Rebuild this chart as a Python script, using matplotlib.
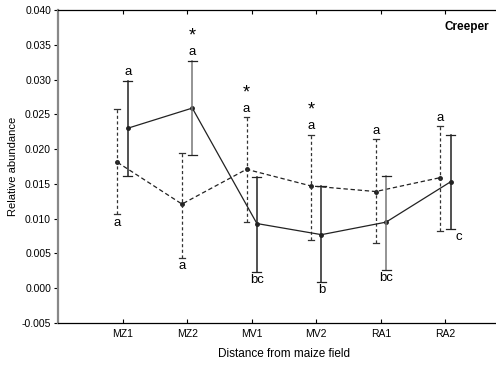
"""Relative abundance of creepers at increasing distance from the maize field."""

import numpy as np
import matplotlib.pyplot as plt

plt.rcParams['font.family'] = ['Liberation Sans', 'DejaVu Sans']

sites = ['MZ1', 'MZ2', 'MV1', 'MV2', 'RA1', 'RA2']

# solid series (mean, upper and lower whisker ends)
solid_mean = [0.0230, 0.0259, 0.0093, 0.0077, 0.0095, 0.0153]
solid_upper = [0.0298, 0.0327, 0.0160, 0.0147, 0.0161, 0.0221]
solid_lower = [0.0161, 0.0191, 0.0024, 0.0009, 0.0026, 0.0085]

# dashed series
dashed_mean = [0.0181, 0.0121, 0.0171, 0.0147, 0.0139, 0.0159]
dashed_upper = [0.0257, 0.0195, 0.0246, 0.0221, 0.0214, 0.0233]
dashed_lower = [0.0106, 0.0043, 0.0095, 0.0070, 0.0065, 0.0082]

# significance letters and stars
solid_top_labels = ['a', 'a', '', '', '', '']
solid_top_star = [False, True, False, False, False, False]
dashed_top_labels = ['', '', 'a', 'a', 'a', 'a']
dashed_top_star = [False, False, True, True, False, False]
dashed_bottom_labels = ['a', 'a', '', '', '', '']
solid_bottom_labels = ['', '', 'bc', 'b', 'bc', 'c']

x = np.arange(1, len(sites) + 1)
off = 0.08
xs = x + off
xd = x - off

fig = plt.figure(figsize=(4.96, 3.67), dpi=100)
ax = fig.add_axes([58 / 496, 44 / 367, 452 / 496, 313 / 367])

# dashed series
ax.plot(xd, dashed_mean, color='#222222', lw=0.9, dashes=(3.5, 2.2),
        marker='o', ms=2.5, mfc='#222222', mec='#222222')
for xi, lo, hi in zip(xd, dashed_lower, dashed_upper):
    ax.plot([xi, xi], [lo, hi], color='#333333', lw=0.9, dashes=(2.5, 2))
    ax.plot([xi - 0.045, xi + 0.045], [lo, lo], color='#333333', lw=0.9)
    ax.plot([xi - 0.045, xi + 0.045], [hi, hi], color='#333333', lw=0.9)

# solid series
ax.plot(xs, solid_mean, color='#222222', lw=0.9, marker='o', ms=2.5,
        mfc='#222222', mec='#222222')
for i, (xi, lo, hi) in enumerate(zip(xs, solid_lower, solid_upper)):
    c = '#777777' if i in (1, 4) else '#222222'
    ax.plot([xi, xi], [lo, hi], color=c, lw=1.1)
    ax.plot([xi - 0.07, xi + 0.07], [lo, lo], color='#222222', lw=0.9)
    ax.plot([xi - 0.07, xi + 0.07], [hi, hi], color='#222222', lw=0.9)

# annotation letters
fs = 9.5
for i in range(len(sites)):
    if solid_top_labels[i]:
        ax.text(xs[i], solid_upper[i] + 0.0004, solid_top_labels[i], ha='center', va='bottom', fontsize=fs)
    if solid_top_star[i]:
        ax.text(xs[i], solid_upper[i] + 0.0024, '*', ha='center', va='bottom', fontsize=13)
    if dashed_top_labels[i]:
        ax.text(xd[i], dashed_upper[i] + 0.0003, dashed_top_labels[i], ha='center', va='bottom', fontsize=fs)
    if dashed_top_star[i]:
        ax.text(xd[i], dashed_upper[i] + 0.0023, '*', ha='center', va='bottom', fontsize=13)
    if dashed_bottom_labels[i]:
        ax.text(xd[i], dashed_lower[i] - 0.0003, dashed_bottom_labels[i], ha='center', va='top', fontsize=fs)
    if solid_bottom_labels[i]:
        if sites[i] == 'RA2':
            ax.text(xs[i] + 0.07, solid_lower[i] - 0.0003, solid_bottom_labels[i], ha='left', va='top', fontsize=fs)
        else:
            ax.text(xs[i], solid_lower[i] - 0.0003, solid_bottom_labels[i], ha='center', va='top', fontsize=fs)

ax.text(5.98, 0.0375, 'Creeper', ha='left', va='center', fontsize=8.5, fontweight='bold')

yticks = np.arange(-0.005, 0.0401, 0.005)
ax.set_xlim(0, 7)
ax.set_ylim(-0.005, 0.040)
ax.set_xticks(x)
ax.set_xticklabels(sites, fontsize=7.5)
ax.set_yticks(yticks)
ax.set_yticklabels([f'{v:.3f}' for v in yticks], fontsize=7.5)
ax.tick_params(axis='x', direction='in', top=True, length=3, width=0.8, pad=4)
ax.tick_params(axis='y', direction='out', length=3, width=0.8, pad=2)
ax.spines['left'].set_color('#888888')
ax.spines['left'].set_linewidth(1.6)
ax.spines['right'].set_visible(False)
for s in ('top', 'bottom'):
    ax.spines[s].set_linewidth(0.9)

ax.set_xlabel('Distance from maize field', fontsize=8.5, labelpad=7)
ax.set_ylabel('Relative abundance', fontsize=8, labelpad=3)

fig.savefig('out.png', dpi=100)
